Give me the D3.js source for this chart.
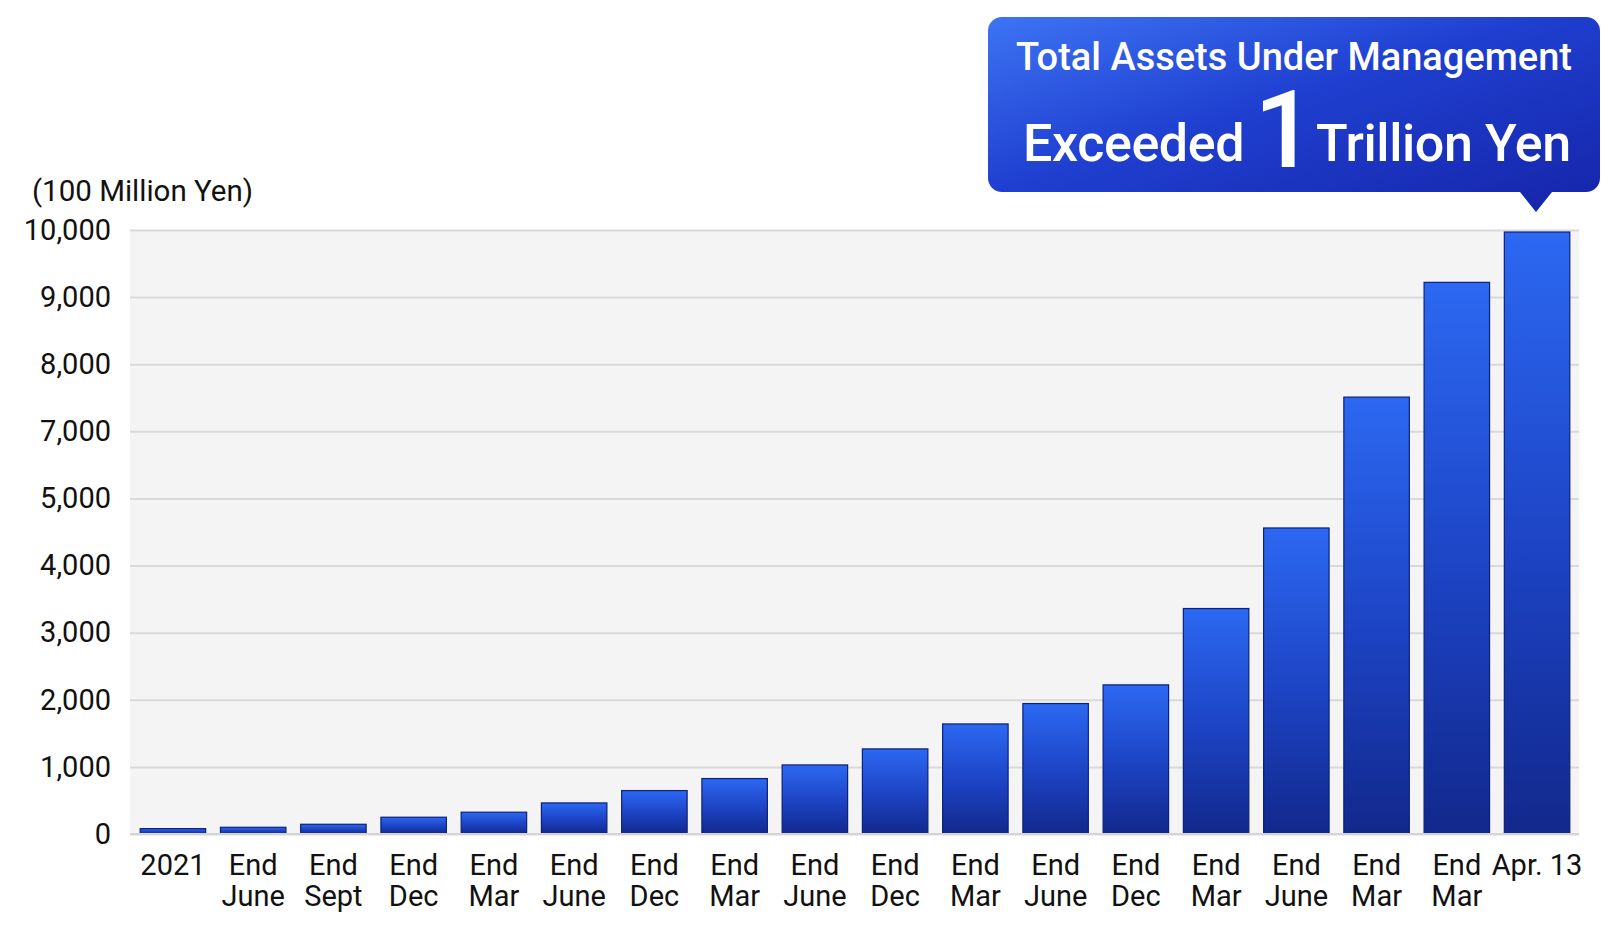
<!DOCTYPE html>
<html>
<head>
<meta charset="utf-8">
<script src="https://cdn.jsdelivr.net/npm/d3@7/dist/d3.min.js"></script>
<style>
  html, body { margin: 0; padding: 0; background: #ffffff; }
  svg { display: block; font-family: Roboto, "Noto Sans", sans-serif; }
</style>
</head>
<body>
<svg id="chart" width="1613" height="934"></svg>
<script>
// ---- data ----
const categories = [
  ["2021"], ["End", "June"], ["End", "Sept"], ["End", "Dec"], ["End", "Mar"],
  ["End", "June"], ["End", "Dec"], ["End", "Mar"], ["End", "June"], ["End", "Dec"],
  ["End", "Mar"], ["End", "June"], ["End", "Dec"], ["End", "Mar"], ["End", "June"],
  ["End", "Mar"], ["End", "Mar"], ["Apr. 13"]
];
const values = [80, 100, 145, 250, 325, 463, 647, 826, 1029, 1268, 1640, 1944, 2222, 3360, 4560, 7510, 9220, 9970];
const yTickValues = [0, 1000, 2000, 3000, 4000, 5000, 7000, 8000, 9000, 10000];
const yTickLabels = ["0", "1,000", "2,000", "3,000", "4,000", "5,000", "7,000", "8,000", "9,000", "10,000"];
const unitLabel = "(100 Million Yen)";
const calloutLine1 = "Total Assets Under Management";
const calloutLine2 = ["Exceeded", "1", "Trillion Yen"];

// ---- layout ----
const plotLeft = 130, plotRight = 1579, plotTop = 230, plotBottom = 834;
const svg = d3.select("#chart");
const defs = svg.append("defs");

const barGrad = defs.append("linearGradient").attr("id", "barGrad")
  .attr("x1", 0).attr("y1", 0).attr("x2", 0).attr("y2", 1);
barGrad.append("stop").attr("offset", "0%").attr("stop-color", "#2c68f2");
barGrad.append("stop").attr("offset", "55%").attr("stop-color", "#1c42c2");
barGrad.append("stop").attr("offset", "100%").attr("stop-color", "#12288c");

const boxGrad = defs.append("linearGradient").attr("id", "boxGrad")
  .attr("x1", 0).attr("y1", 0).attr("x2", 1).attr("y2", 1);
boxGrad.append("stop").attr("offset", "0%").attr("stop-color", "#3d74f4");
boxGrad.append("stop").attr("offset", "45%").attr("stop-color", "#1f3fd0");
boxGrad.append("stop").attr("offset", "100%").attr("stop-color", "#1524a8");

// scales
const step = (plotBottom - plotTop) / (yTickValues.length - 1);
const y = d3.scaleLinear()
  .domain(yTickValues)
  .range(yTickValues.map((d, i) => plotBottom - i * step));

const x = d3.scaleBand()
  .domain(d3.range(categories.length))
  .range([plotLeft, plotRight + 1])
  .paddingInner(0.184)
  .paddingOuter(0.127);

// plot background
svg.append("rect")
  .attr("x", plotLeft).attr("y", plotTop)
  .attr("width", plotRight - plotLeft).attr("height", plotBottom - plotTop)
  .attr("fill", "#f4f4f4");

// gridlines + y labels
const yAxis = d3.axisLeft(y)
  .tickValues(yTickValues)
  .tickFormat((d, i) => yTickLabels[i])
  .tickSize(-(plotRight - plotLeft))
  .tickPadding(19);

const gy = svg.append("g")
  .attr("transform", `translate(${plotLeft},0)`)
  .call(yAxis);
gy.select(".domain").remove();
gy.selectAll(".tick line").attr("stroke", "#d9d9d9").attr("stroke-width", 2);
gy.selectAll(".tick text")
  .attr("fill", "#111")
  .attr("font-size", 29)
  .attr("font-family", "Roboto, sans-serif");

// bars
svg.append("g").selectAll("rect")
  .data(values)
  .join("rect")
  .attr("x", (d, i) => x(i))
  .attr("width", x.bandwidth())
  .attr("y", d => y(d))
  .attr("height", d => plotBottom - y(d))
  .attr("fill", "url(#barGrad)")
  .attr("stroke", "#0d2078")
  .attr("stroke-width", 1.2);

// baseline
svg.append("line")
  .attr("x1", plotLeft).attr("x2", plotRight)
  .attr("y1", plotBottom).attr("y2", plotBottom)
  .attr("stroke", "#d4d4d4").attr("stroke-width", 2);

// x labels
const xl = svg.append("g").selectAll("text")
  .data(categories)
  .join("text")
  .attr("x", (d, i) => x(i) + x.bandwidth() / 2)
  .attr("y", 875)
  .attr("text-anchor", "middle")
  .attr("fill", "#111")
  .attr("font-size", 29);
xl.selectAll("tspan")
  .data(d => d)
  .join("tspan")
  .attr("x", function () { return this.parentNode.getAttribute("x"); })
  .attr("dy", (d, i) => i === 0 ? 0 : 31)
  .text(d => d);

// unit label
svg.append("text")
  .attr("x", 32).attr("y", 201)
  .attr("fill", "#111")
  .attr("font-size", 29.5)
  .text(unitLabel);

// callout
const bx = 988, by = 17, bw = 612, bh = 175, r = 14;
const tipX = 1536, tipY = 212, tipHalf = 16;
const p = d3.path();
p.moveTo(bx + r, by);
p.lineTo(bx + bw - r, by);
p.arcTo(bx + bw, by, bx + bw, by + r, r);
p.lineTo(bx + bw, by + bh - r);
p.arcTo(bx + bw, by + bh, bx + bw - r, by + bh, r);
p.lineTo(tipX + tipHalf, by + bh);
p.lineTo(tipX, tipY);
p.lineTo(tipX - tipHalf, by + bh);
p.lineTo(bx + r, by + bh);
p.arcTo(bx, by + bh, bx, by + bh - r, r);
p.lineTo(bx, by + r);
p.arcTo(bx, by, bx + r, by, r);
p.closePath();
svg.append("path")
  .attr("d", p.toString())
  .attr("fill", "url(#boxGrad)");

svg.append("text")
  .attr("x", bx + bw / 2).attr("y", 70)
  .attr("text-anchor", "middle")
  .attr("fill", "#ffffff")
  .attr("font-size", 38)
  .attr("font-weight", 500)
  .text(calloutLine1);

const line2 = svg.append("g").attr("fill", "#ffffff");
line2.append("text").attr("x", 1023).attr("y", 161).attr("font-size", 52)
  .attr("letter-spacing", -0.4).attr("font-weight", 500).text(calloutLine2[0]);
line2.append("text").attr("x", 1254).attr("y", 167).attr("font-size", 108)
  .attr("font-weight", 500).text(calloutLine2[1]);
line2.append("text").attr("x", 1316).attr("y", 161).attr("font-size", 52)
  .attr("letter-spacing", -0.4).attr("font-weight", 500).text(calloutLine2[2]);
</script>
</body>
</html>
